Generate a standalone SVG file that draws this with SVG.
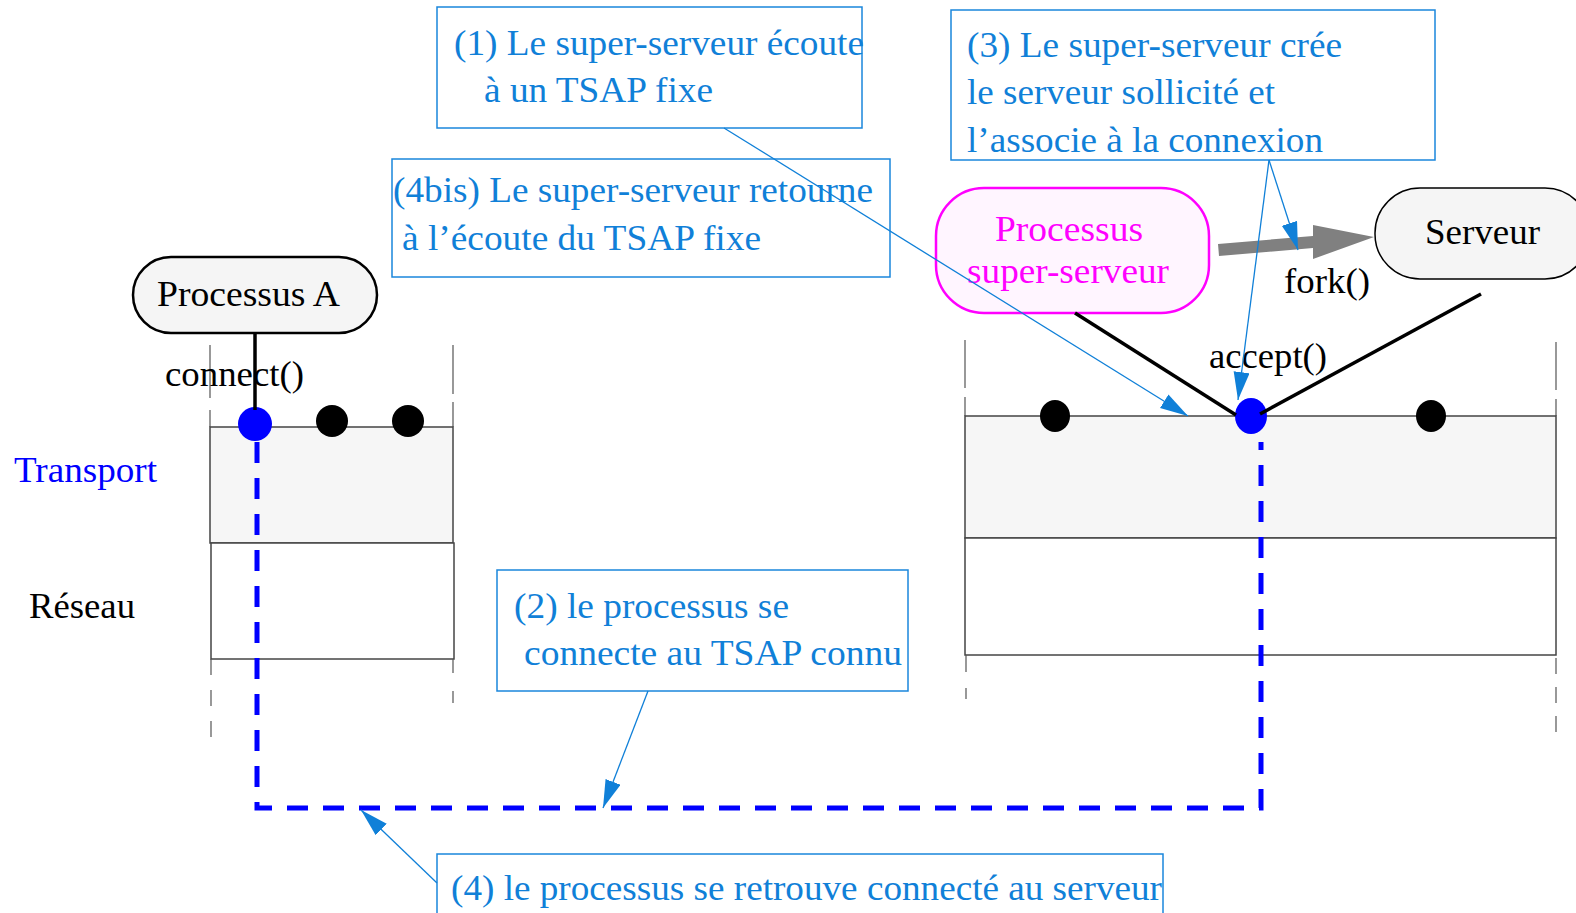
<svg xmlns="http://www.w3.org/2000/svg" width="1576" height="913" viewBox="0 0 1576 913">
<defs>
<style>
text{font-family:"Liberation Serif","Times New Roman",serif;font-size:36px}
.call{fill:#1080d8}
.cbox{fill:none;stroke:#1a86dc;stroke-width:1.5}
.cline{stroke:#1080d8;stroke-width:1.3;fill:none}
.grid{stroke:#555;stroke-width:1.2;fill:none}
.layer{stroke:#444;stroke-width:1.5}
.blk{fill:#000}
.ctl{stroke:#000;stroke-width:3.5;fill:none}
</style>
<marker id="ah" markerUnits="userSpaceOnUse" markerWidth="30" markerHeight="18" refX="28" refY="8" orient="auto">
<path d="M0,0 L28,8 L0,16 Z" fill="#1080d8"/>
</marker>
</defs>
<rect width="1576" height="913" fill="#fff"/>

<g id="stack-left">
<line class="grid" x1="210" y1="345" x2="210" y2="427" stroke-dasharray="53,12"/>
<line class="grid" x1="453" y1="345" x2="453" y2="427" stroke-dasharray="49,8"/>
<rect class="layer" x="210" y="427" width="243" height="116" fill="#f6f6f6"/>
<rect class="layer" x="211" y="543" width="243" height="116" fill="#fff"/>
<line class="grid" x1="211" y1="659" x2="211" y2="740" stroke-dasharray="16,15"/>
<line class="grid" x1="453" y1="659" x2="453" y2="703" stroke-dasharray="14,18"/>
</g>

<g id="stack-right">
<line class="grid" x1="965" y1="340" x2="965" y2="416" stroke-dasharray="48,9"/>
<line class="grid" x1="1556" y1="342" x2="1556" y2="416" stroke-dasharray="48,9"/>
<rect class="layer" x="965" y="416" width="591" height="122" fill="#f6f6f6"/>
<rect class="layer" x="965" y="538" width="591" height="117" fill="#fff"/>
<line class="grid" x1="966" y1="655" x2="966" y2="699" stroke-dasharray="17,16"/>
<line class="grid" x1="1556" y1="658" x2="1556" y2="732" stroke-dasharray="16,13"/>
</g>

<g id="labels">
<text x="14" y="482" fill="#0000ff" textLength="143" lengthAdjust="spacingAndGlyphs">Transport</text>
<text x="29" y="618" fill="#000" textLength="106" lengthAdjust="spacingAndGlyphs">Réseau</text>
</g>

<g id="tsaps">
<circle cx="255" cy="424" r="17" fill="#0000ff"/>
<circle cx="332" cy="421" r="16" class="blk"/>
<circle cx="408" cy="421" r="16" class="blk"/>
<ellipse cx="1055" cy="416" rx="15" ry="16" class="blk"/>
<ellipse cx="1251" cy="416" rx="16" ry="18" fill="#0000ff"/>
<ellipse cx="1431" cy="416" rx="15" ry="16" class="blk"/>
</g>

<g id="call-labels">
<text x="165" y="386" textLength="139" lengthAdjust="spacingAndGlyphs">connect()</text>
<text x="1209" y="368" textLength="118" lengthAdjust="spacingAndGlyphs">accept()</text>
<text x="1284" y="293" textLength="86" lengthAdjust="spacingAndGlyphs">fork()</text>
</g>

<g id="processus-a">
<rect x="133" y="257" width="244" height="76" rx="38" fill="#f5f5f5" stroke="#000" stroke-width="2.5"/>
<text x="157" y="306" textLength="183" lengthAdjust="spacingAndGlyphs">Processus A</text>
</g>

<g id="super-serveur">
<rect x="936" y="188" width="273" height="125" rx="48" fill="#fff5ff" stroke="#ff00ff" stroke-width="2.5"/>
<text x="995" y="241" fill="#ff00ff" textLength="148" lengthAdjust="spacingAndGlyphs">Processus</text>
<text x="967" y="283" fill="#ff00ff" textLength="202" lengthAdjust="spacingAndGlyphs">super-serveur</text>
</g>

<g id="serveur">
<rect x="1375" y="188" width="215" height="91" rx="45" fill="#f5f5f5" stroke="#000" stroke-width="1.5"/>
<text x="1425" y="244" textLength="115" lengthAdjust="spacingAndGlyphs">Serveur</text>
</g>

<g id="note-1">
<rect class="cbox" x="437" y="7" width="425" height="121"/>
<text class="call" x="454" y="55" textLength="410" lengthAdjust="spacingAndGlyphs">(1) Le super-serveur écoute</text>
<text class="call" x="484" y="102" textLength="229" lengthAdjust="spacingAndGlyphs">à un TSAP fixe</text>
</g>

<g id="note-4bis">
<rect class="cbox" x="392" y="159" width="498" height="118"/>
<text class="call" x="393" y="202" textLength="480" lengthAdjust="spacingAndGlyphs">(4bis) Le super-serveur retourne</text>
<text class="call" x="402" y="250" textLength="359" lengthAdjust="spacingAndGlyphs">à l’écoute du TSAP fixe</text>
</g>

<g id="note-3">
<rect class="cbox" x="951" y="10" width="484" height="150"/>
<text class="call" x="967" y="57" textLength="375" lengthAdjust="spacingAndGlyphs">(3) Le super-serveur crée</text>
<text class="call" x="967" y="104" textLength="308" lengthAdjust="spacingAndGlyphs">le serveur sollicité et</text>
<text class="call" x="967" y="152" textLength="356" lengthAdjust="spacingAndGlyphs">l’associe à la connexion</text>
</g>

<g id="note-2">
<rect class="cbox" x="497" y="570" width="411" height="121"/>
<text class="call" x="514" y="618" textLength="275" lengthAdjust="spacingAndGlyphs">(2) le processus se</text>
<text class="call" x="524" y="665" textLength="378" lengthAdjust="spacingAndGlyphs">connecte au TSAP connu</text>
</g>

<g id="note-4">
<rect class="cbox" x="437" y="854" width="726" height="80"/>
<text class="call" x="451" y="900" textLength="711" lengthAdjust="spacingAndGlyphs">(4) le processus se retrouve connecté au serveur</text>
</g>

<g id="connectors">
<line class="ctl" x1="255" y1="333" x2="255" y2="410"/>
<line class="ctl" x1="1075" y1="313" x2="1236" y2="415"/>
<line class="ctl" x1="1260" y1="414" x2="1481" y2="294"/>
<path d="M257,442 L257,808 L1261,808 L1261,442" fill="none" stroke="#0000ff" stroke-width="5" stroke-dasharray="21,15"/>
<polygon points="1218,244 1313,236 1313,225 1374,237 1313,259 1313,248 1219,256" fill="#808080"/>
<line class="cline" x1="724" y1="128" x2="1188" y2="416" marker-end="url(#ah)"/>
<line class="cline" x1="1269" y1="160" x2="1298" y2="250" marker-end="url(#ah)"/>
<line class="cline" x1="1269" y1="160" x2="1238" y2="400" marker-end="url(#ah)"/>
<line class="cline" x1="648" y1="691" x2="603" y2="808" marker-end="url(#ah)"/>
<line class="cline" x1="437" y1="883" x2="361" y2="810" marker-end="url(#ah)"/>
</g>
</svg>
